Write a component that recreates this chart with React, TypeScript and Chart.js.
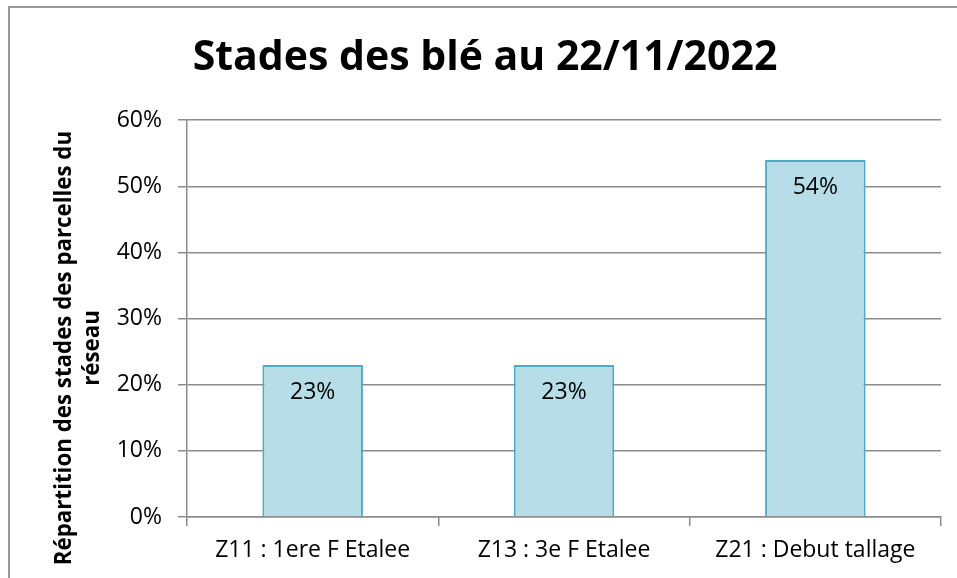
import React, { useEffect, useRef } from "react";
import { Chart, registerables } from "chart.js";

Chart.register(...registerables);

const categories = ["Z11 : 1ere F Etalee", "Z13 : 3e F Etalee", "Z21 : Debut tallage"];
const values = [23, 23, 54];
const yMin = 0;
const yMax = 60;
const yStep = 10;
const titleText = "Stades des blé au 22/11/2022";
const yTitleLines = ["Répartition des stades des parcelles du", "réseau"];

const FONT = "'Open Sans', sans-serif";
const TXT = 23;

const valueLabels = {
  id: "valueLabels",
  afterDatasetsDraw(chart: any) {
    const ctx = chart.ctx;
    const meta = chart.getDatasetMeta(0);
    ctx.save();
    ctx.fillStyle = "#000";
    ctx.font = `${TXT}px ${FONT}`;
    ctx.textAlign = "center";
    ctx.textBaseline = "middle";
    meta.data.forEach((el: any, i: number) => {
      ctx.fillText(values[i] + "%", el.x, el.y + 28);
    });
    ctx.restore();
  },
};

const yTitle = {
  id: "yTitle",
  afterDraw(chart: any) {
    const ctx = chart.ctx;
    ctx.save();
    ctx.fillStyle = "#000";
    ctx.font = `bold 22.3px ${FONT}`;
    ctx.textAlign = "center";
    ctx.textBaseline = "middle";
    const xs = [65, 93];
    yTitleLines.forEach((line, i) => {
      ctx.save();
      ctx.translate(xs[i], 348);
      ctx.rotate(-Math.PI / 2);
      ctx.fillText(line, 0, 0);
      ctx.restore();
    });
    ctx.restore();
  },
};

export default function App() {
  const ref = useRef<HTMLCanvasElement>(null);

  useEffect(() => {
    if (!ref.current) return;
    const grey = "#8c8c8c";
    const chart = new Chart(ref.current, {
      type: "bar",
      data: {
        labels: categories,
        datasets: [
          {
            data: values,
            backgroundColor: "#b7dde8",
            borderColor: "#4bacc6",
            borderWidth: 2,
            barPercentage: 0.4,
            categoryPercentage: 1.0,
          },
        ],
      },
      options: {
        animation: false,
        responsive: false,
        devicePixelRatio: 1,
        layout: { padding: { left: 29, right: 16, top: 0, bottom: 0 } },
        plugins: {
          legend: { display: false },
          tooltip: { enabled: false },
          title: {
            display: true,
            text: titleText,
            color: "#000",
            font: { family: FONT, size: 41, weight: "bold", lineHeight: 1.2 },
            padding: { top: 34, bottom: 37 },
          },
        },
        scales: {
          x: {
            afterFit(scale: any) {
              scale.height = 61;
            },
            grid: {
              display: true,
              drawOnChartArea: false,
              drawTicks: true,
              tickLength: 9,
              color: grey,
              lineWidth: 1.5,
              offset: true,
            },
            border: { display: true, color: grey, width: 1.5 },
            ticks: {
              color: "#000",
              font: { family: FONT, size: TXT },
              padding: 11,
              maxRotation: 0,
            },
          },
          y: {
            min: yMin,
            max: yMax,
            afterFit(scale: any) {
              scale.width = 158;
            },
            grid: {
              color: grey,
              lineWidth: 1.5,
              drawTicks: true,
              tickLength: 9,
            },
            border: { display: true, color: grey, width: 1.5 },
            ticks: {
              stepSize: yStep,
              color: "#000",
              font: { family: FONT, size: TXT },
              padding: 16,
              callback: (v: any) => v + "%",
            },
          },
        },
      },
      plugins: [valueLabels, yTitle],
    });
    return () => chart.destroy();
  }, []);

  return (
    <div style={{ position: "fixed", left: 0, top: 0, width: 957, height: 578, background: "#fff", overflow: "hidden" }}>
      <div
        style={{
          position: "absolute",
          left: 8,
          top: 6,
          width: 2000,
          height: 2000,
          borderLeft: "2px solid #9a9a9a",
          borderTop: "2px solid #9a9a9a",
        }}
      />
      <canvas ref={ref} width={957} height={578} style={{ position: "absolute", left: 0, top: 0 }} />
    </div>
  );
}
